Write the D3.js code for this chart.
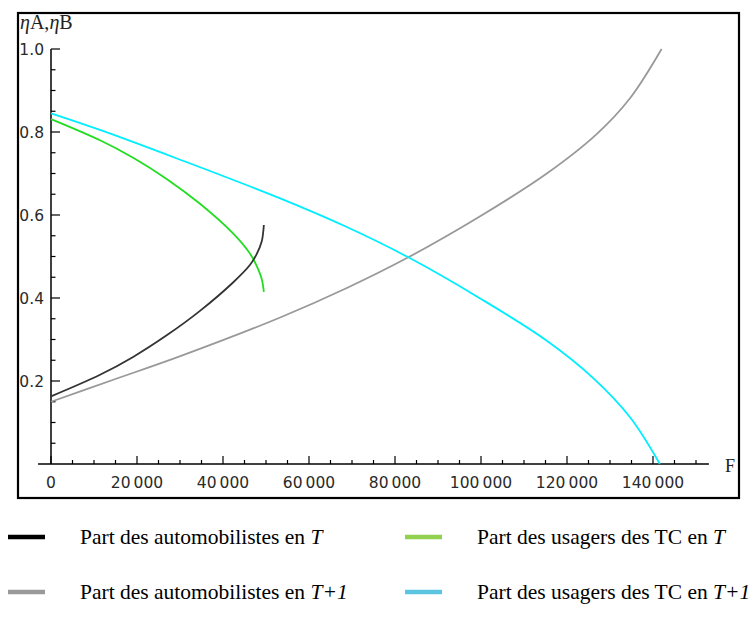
<!DOCTYPE html>
<html><head><meta charset="utf-8">
<script src="https://cdn.jsdelivr.net/npm/d3@7"></script>
<style>
html,body{margin:0;padding:0;background:#fff;}
svg{display:block;}
</style>
</head><body>
<svg id="c" width="750" height="628"></svg>
<script>
// ---- data ----
const autoT_F   = [0, 11400, 19100, 26900, 34650, 42400, 46300, 47800, 49000, 49500];
const autoT_V   = [0.163, 0.215, 0.258, 0.310, 0.369, 0.438, 0.480, 0.505, 0.536, 0.576];
const tcT_F     = [0, 11400, 19100, 26900, 34650, 42400, 46300, 47800, 49000, 49500];
const tcT_V     = [0.831, 0.780, 0.738, 0.687, 0.627, 0.555, 0.5065, 0.478, 0.446, 0.415];
const autoT1_F  = [0, 14500, 29600, 53300, 68800, 83100, 99800, 115300, 126900, 134700, 142000];
const autoT1_V  = [0.150, 0.203, 0.258, 0.353, 0.424, 0.498, 0.597, 0.700, 0.795, 0.882, 1.0];
const tcT1_F    = [0, 11400, 29600, 53300, 68800, 83100, 99800, 115300, 126100, 134700, 141600];
const tcT1_V    = [0.845, 0.805, 0.735, 0.640, 0.571, 0.498, 0.399, 0.297, 0.207, 0.112, 0.0];

const xTicks = [0, 20000, 40000, 60000, 80000, 100000, 120000, 140000];
const xTickLabels = ["0", "20\u2009000", "40\u2009000", "60\u2009000", "80\u2009000", "100\u2009000", "120\u2009000", "140\u2009000"];
const yTicks = [0.2, 0.4, 0.6, 0.8, 1.0];
const yTickLabels = ["0.2", "0.4", "0.6", "0.8", "1.0"];

const seriesNames = ["Part des automobilistes en ", "Part des usagers des TC en ", "Part des automobilistes en ", "Part des usagers des TC en "];
const seriesSuffix = ["T", "T", "T+1", "T+1"];
const curveColors = ["#333333", "#22dd22", "#999999", "#00eeff"];
const legendColors = ["#000000", "#92d050", "#9a9a9a", "#5bc5df"];

// ---- drawing ----
const svg = d3.select("#c");
const x = d3.scaleLinear().domain([0, 140000]).range([51, 653]);
const y = d3.scaleLinear().domain([0, 1]).range([464, 49]);

// frame
svg.append("rect").attr("x", 18).attr("y", 13).attr("width", 721).attr("height", 485)
  .attr("fill", "none").attr("stroke", "#000").attr("stroke-width", 2.2);

const g = svg.append("g");

// x axis
g.append("line").attr("x1", x(-3000)).attr("x2", x(153000)).attr("y1", y(0)).attr("y2", y(0))
  .attr("stroke", "#000").attr("stroke-width", 1.5);
const xMinor = d3.range(5000, 152000, 5000).filter(v => v % 20000 !== 0);
g.selectAll(".xmin").data(xMinor).enter().append("line")
  .attr("x1", d => x(d)).attr("x2", d => x(d)).attr("y1", y(0)).attr("y2", y(0) - 4)
  .attr("stroke", "#000").attr("stroke-width", 1.2);
g.selectAll(".xmaj").data(xTicks).enter().append("line")
  .attr("x1", d => x(d)).attr("x2", d => x(d)).attr("y1", y(0)).attr("y2", y(0) - 8)
  .attr("stroke", "#000").attr("stroke-width", 1.2);
g.selectAll(".xlab").data(xTicks).enter().append("text")
  .attr("x", d => x(d)).attr("y", 487.5).attr("text-anchor", "middle")
  .attr("font-family", "DejaVu Sans").attr("font-size", 15.5).attr("fill", "#2a2a2a")
  .text((d, i) => xTickLabels[i]);

// y axis
g.append("line").attr("x1", x(0)).attr("x2", x(0)).attr("y1", y(0)).attr("y2", y(1))
  .attr("stroke", "#000").attr("stroke-width", 1.5);
const yMinor = d3.range(1, 20).map(i => i * 0.05).filter(v => Math.abs(v * 5 - Math.round(v * 5)) > 1e-6);
g.selectAll(".ymin").data(yMinor).enter().append("line")
  .attr("x1", x(0)).attr("x2", x(0) + 4.5).attr("y1", d => y(d)).attr("y2", d => y(d))
  .attr("stroke", "#000").attr("stroke-width", 1.2);
g.selectAll(".ymaj").data(yTicks).enter().append("line")
  .attr("x1", x(0)).attr("x2", x(0) + 9).attr("y1", d => y(d)).attr("y2", d => y(d))
  .attr("stroke", "#000").attr("stroke-width", 1.2);
g.selectAll(".ylab").data(yTicks).enter().append("text")
  .attr("x", 44).attr("y", d => y(d) + 5.8).attr("text-anchor", "end")
  .attr("font-family", "DejaVu Sans").attr("font-size", 15.5).attr("fill", "#2a2a2a")
  .text((d, i) => yTickLabels[i]);

// axis titles
const yt = svg.append("text").attr("x", 20).attr("y", 29)
  .attr("font-family", "Liberation Serif").attr("font-size", 20).attr("fill", "#222");
yt.append("tspan").attr("font-style", "italic").text("η");
yt.append("tspan").text("A,");
yt.append("tspan").attr("font-style", "italic").text("η");
yt.append("tspan").text("B");
svg.append("text").attr("x", 725).attr("y", 472)
  .attr("font-family", "Liberation Serif").attr("font-size", 18).attr("fill", "#222").text("F");

// curves
const line = d3.line().x(d => x(d[0])).y(d => y(d[1])).curve(d3.curveCatmullRom.alpha(0.5));
const series = [
  d3.zip(autoT_F, autoT_V),
  d3.zip(tcT_F, tcT_V),
  d3.zip(autoT1_F, autoT1_V),
  d3.zip(tcT1_F, tcT1_V)
];
[2, 3, 1, 0].forEach(i => {
  svg.append("path").attr("d", line(series[i])).attr("fill", "none")
    .attr("stroke", curveColors[i]).attr("stroke-width", 1.8);
});

// legend
const legPos = [[8, 537], [405, 537], [8, 592], [405, 592]];
legPos.forEach((p, i) => {
  svg.append("line").attr("x1", p[0]).attr("x2", p[0] + 37).attr("y1", p[1]).attr("y2", p[1])
    .attr("stroke", legendColors[i]).attr("stroke-width", 4.5);
  const t = svg.append("text").attr("x", p[0] + 72).attr("y", p[1] + 7)
    .attr("font-family", "Liberation Serif").attr("font-size", 21.5).attr("fill", "#000");
  t.append("tspan").text(seriesNames[i]);
  t.append("tspan").attr("font-style", "italic").text(seriesSuffix[i]);
});
</script>
</body></html>
